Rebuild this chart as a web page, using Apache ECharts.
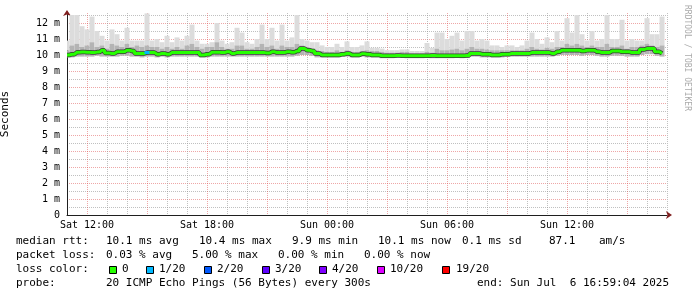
<!DOCTYPE html>
<html><head><meta charset="utf-8">
<script src="https://cdn.jsdelivr.net/npm/echarts@6/dist/echarts.min.js"></script>
<style>html,body{margin:0;padding:0;background:#fff}#c{width:697px;height:297px}</style>
</head><body><div id="c"></div>
<script>
// time: hours since Sat 00:00, 15-minute samples
const startHour = 11.0;
const stepHour = 0.25;
const medianRtt = [10.0,10.05,10.17,10.18,10.17,10.15,10.18,10.3,10.12,10.1,10.2,10.2,10.3,10.25,10.1,10.1,10.15,10.15,10.05,10.1,
 10.05,10.15,10.15,10.15,10.15,10.15,10.15,10.0,10.05,10.17,10.17,10.15,10.2,10.1,10.15,10.15,10.15,10.15,10.15,10.15,
 10.12,10.2,10.15,10.15,10.2,10.17,10.25,10.4,10.3,10.25,10.1,10.0,10.0,10.0,10.0,10.05,10.1,10.0,10.0,10.08,
 10.05,10.0,10.0,9.95,9.95,9.95,9.97,9.95,9.95,9.95,9.95,9.95,9.95,9.97,9.95,9.95,9.95,9.95,9.95,9.95,
 9.97,10.1,10.1,10.05,10.05,10.0,10.0,10.05,10.05,10.1,10.1,10.1,10.1,10.15,10.15,10.15,10.15,10.1,10.2,10.3,
 10.3,10.3,10.3,10.25,10.3,10.3,10.2,10.15,10.15,10.25,10.25,10.2,10.2,10.15,10.15,10.35,10.4,10.4,10.2,10.1];
const smokeLow = [9.85,9.85,9.9,9.9,9.9,9.9,9.95,9.9,9.9,9.9,9.9,9.95,9.95,9.9,9.9,9.85,9.9,9.9,9.85,9.9,
 9.85,9.9,9.9,9.9,9.9,9.9,9.9,9.85,9.85,9.9,9.9,9.9,9.9,9.9,9.9,9.9,9.9,9.9,9.9,9.9,
 9.9,9.9,9.9,9.9,9.9,9.9,9.95,10.0,10.0,9.95,9.85,9.85,9.85,9.85,9.85,9.9,9.9,9.85,9.85,9.9,
 9.85,9.85,9.85,9.8,9.8,9.8,9.85,9.85,9.8,9.8,9.8,9.8,9.85,9.8,9.8,9.8,9.8,9.8,9.85,9.8,
 9.85,9.9,9.9,9.85,9.85,9.85,9.85,9.85,9.9,9.9,9.9,9.9,9.9,9.9,9.9,9.9,9.9,9.9,9.95,10.0,
 10.0,10.0,10.0,9.95,10.0,10.0,9.95,9.9,9.9,9.95,9.95,9.95,9.9,9.9,9.9,10.0,10.05,10.05,9.95,9.9];
const smokeMid = [10.3,10.6,10.7,10.5,10.6,10.8,10.5,10.6,10.4,10.7,10.6,10.5,10.7,10.5,10.6,10.5,10.6,10.5,10.5,10.4,
 10.5,10.4,10.5,10.4,10.6,10.7,10.5,10.4,10.5,10.5,10.8,10.5,10.4,10.4,10.6,10.6,10.4,10.4,10.5,10.7,
 10.5,10.6,10.4,10.6,10.5,10.5,10.7,10.6,10.5,10.4,10.3,10.25,10.2,10.2,10.3,10.2,10.3,10.2,10.2,10.25,
 10.3,10.25,10.25,10.2,10.15,10.15,10.15,10.2,10.2,10.1,10.1,10.1,10.2,10.15,10.4,10.3,10.3,10.35,10.4,10.3,
 10.4,10.5,10.4,10.4,10.35,10.3,10.3,10.3,10.3,10.3,10.3,10.3,10.4,10.5,10.4,10.35,10.45,10.4,10.5,10.5,
 10.7,10.6,10.7,10.6,10.5,10.6,10.5,10.5,10.7,10.5,10.5,10.6,10.4,10.5,10.5,10.6,10.7,10.6,10.5,10.6];
const smokeMax = [10.9,12.5,12.5,11.8,11.6,12.4,11.5,11.2,10.9,11.6,11.3,10.9,11.7,10.9,10.9,10.9,12.6,10.9,11.0,10.8,
 11.2,10.8,11.1,10.9,11.2,11.9,10.9,10.7,10.7,10.8,12.0,10.9,10.7,10.8,11.7,11.4,10.8,10.7,11.0,11.9,
 11.0,11.7,10.9,11.9,10.9,11.1,12.5,11.0,10.9,10.8,10.8,10.6,10.5,10.5,10.7,10.5,10.85,10.5,10.5,10.6,
 10.85,10.45,10.45,10.4,10.3,10.3,10.3,10.35,10.35,10.25,10.25,10.25,10.75,10.45,11.4,11.4,11.0,11.2,11.4,10.9,
 11.5,11.5,10.9,11.0,10.9,10.6,10.6,10.5,10.6,10.6,10.5,10.6,10.9,11.4,11.0,10.7,11.1,10.8,11.5,10.9,
 12.3,11.4,12.5,11.3,10.9,11.5,10.9,11.0,12.5,11.0,11.0,12.2,10.9,11.0,10.9,10.9,12.3,11.3,11.3,12.4];
const lossCount = new Array(120).fill(0); lossCount[16] = 1;
const tickHours = [12,18,24,30,36];
const tickLabels = ['Sat 12:00','Sat 18:00','Sun 00:00','Sun 06:00','Sun 12:00'];

const times = medianRtt.map((_, i) => startHour + i * stepHour);
const pair = arr => arr.map((v, i) => [times[i], v]);
const smokeData = times.map((t, i) => [t, smokeLow[i], smokeMid[i], smokeMax[i]]);
const lossData = [];
lossCount.forEach((c, i) => { if (c > 0) { lossData.push([times[i] - stepHour/2, medianRtt[i]], [times[i] + stepHour/2, medianRtt[i]]); } });

const MONO = 'DejaVu Sans Mono';
const GRID = 'rgba(150,150,150,0.6)';
const MGRID = 'rgba(222,79,79,0.5)';
const chart = echarts.init(document.getElementById('c'), null, {renderer: 'canvas'});

const txt = (x, y, s, extra) => Object.assign({type:'text', x, y, style:{text:s, font:'11px "DejaVu Sans Mono"', fill:'#000', verticalAlign:'middle', align:'left'}}, extra||{});
const box = (x, y, c) => ({type:'rect', shape:{x, y, width:7, height:7}, style:{fill:c, stroke:'#000', lineWidth:1}});

function renderSmoke(params, api) {
  const t = api.value(0);
  const x0 = api.coord([t - stepHour/2, 0])[0];
  const x1 = api.coord([t + stepHour/2, 0])[0];
  const yLo = api.coord([t, api.value(1)])[1];
  const yMi = api.coord([t, api.value(2)])[1];
  const yHi = api.coord([t, api.value(3)])[1];
  return {type:'group', children:[
    {type:'rect', shape:{x:x0, y:yHi, width:x1-x0, height:yMi-yHi}, style:{fill:'#dcdcdc'}},
    {type:'rect', shape:{x:x0, y:yMi, width:x1-x0, height:yLo-yMi}, style:{fill:'#b4b4b4'}}
  ]};
}

chart.setOption({
  animation: false,
  backgroundColor: '#fff',
  grid: {left: 67, right: 30, top: 13, bottom: 82, outerBoundsMode: 'none', containLabel: false},
  xAxis: [{
    type: 'value', min: 11, max: 41, interval: 1,
    axisLine: {show: true, lineStyle: {color: '#1f1f1f', width: 1}},
    axisTick: {show: false},
    axisLabel: {color:'#000', fontFamily: MONO, fontSize: 10, margin: 5,
      formatter: v => { const k = tickHours.indexOf(Math.round(v)); return k >= 0 ? tickLabels[k] : ''; }},
    splitLine: {show: true, lineStyle: {color: [GRID, MGRID, GRID], type: [1,1], width: 1}}
  },{
    type: 'value', min: 11, max: 41, position: 'bottom', show: true,
    axisLine: {show: true, symbol: ['none','arrow'], symbolSize: [6,6], symbolOffset: [0, 5],
      lineStyle: {color: '#801f1f', opacity: 0}},
    axisTick: {show:false}, axisLabel: {show:false}, splitLine: {show:false}
  }],
  yAxis: [{
    type: 'value', min: 0, max: 12.625, interval: 0.5,
    name: 'Seconds', nameLocation: 'middle', nameGap: 56, nameRotate: 90,
    nameTextStyle: {fontFamily: MONO, fontSize: 11, color: '#000'},
    axisLine: {show: true, lineStyle: {color: '#1f1f1f', width: 1}},
    axisTick: {show: false},
    axisLabel: {color:'#000', fontFamily: MONO, fontSize: 10, margin: 7, showMaxLabel: false,
      formatter: v => { if (Math.abs(v - Math.round(v)) > 1e-6) return ''; return v === 0 ? '0' : v + ' m'; }},
    splitLine: {show: true, showMaxLine: false, lineStyle: {color: [MGRID, GRID], type: [1,1], width: 1}}
  },{
    type: 'value', min: 0, max: 12.625, position: 'left', show: true,
    axisLine: {show: true, symbol: ['none','arrow'], symbolSize: [6,6], symbolOffset: [0, 3],
      lineStyle: {color: '#801f1f', opacity: 0}},
    axisTick: {show:false}, axisLabel: {show:false}, splitLine: {show:false}
  }],
  series: [
    {type:'custom', data: smokeData, renderItem: renderSmoke, clip: true, silent: true, encode: {x: 0, y: [1,2,3]}},
    {type:'line', data: pair(medianRtt), step:'middle', symbol:'none', lineStyle:{color:'#3a3a3a', width:4.5}, silent:true},
    {type:'line', data: pair(medianRtt), step:'middle', symbol:'none', lineStyle:{color:'#26ff00', width:3}, silent:true},
    {type:'line', data: lossData, symbol:'none', lineStyle:{color:'#00b8ff', width:3}, silent:true, z: 5}
  ],
  graphic: [
    {type:'text', x: 687, y: 5, rotation: -Math.PI/2, style:{text:'RRDTOOL / TOBI OETIKER', font:'8px "DejaVu Sans Mono"', fill:'#aaaaaa', align:'left', verticalAlign:'middle'}},
    txt(16, 241.5, 'median rtt:'), txt(106, 241.5, '10.1 ms avg'), txt(199, 241.5, '10.4 ms max'), txt(292, 241.5, '9.9 ms min'),
    txt(378, 241.5, '10.1 ms now'), txt(462, 241.5, '0.1 ms sd'), txt(549, 241.5, '87.1'), txt(599, 241.5, 'am/s'),
    txt(16, 255.5, 'packet loss:'), txt(106, 255.5, '0.03 % avg'), txt(192, 255.5, '5.00 % max'), txt(278, 255.5, '0.00 % min'), txt(364, 255.5, '0.00 % now'),
    txt(16, 269.5, 'loss color:'),
    box(109.5, 266.5, '#26ff00'), txt(122, 269.5, '0'),
    box(146.5, 266.5, '#00b8ff'), txt(159, 269.5, '1/20'),
    box(204.5, 266.5, '#0059ff'), txt(217, 269.5, '2/20'),
    box(262.5, 266.5, '#5e00ff'), txt(275, 269.5, '3/20'),
    box(319.5, 266.5, '#7e00ff'), txt(332, 269.5, '4/20'),
    box(377.5, 266.5, '#dd00ff'), txt(390, 269.5, '10/20'),
    box(442.5, 266.5, '#ff0000'), txt(456, 269.5, '19/20'),
    txt(16, 283, 'probe:'), txt(106, 283, '20 ICMP Echo Pings (56 Bytes) every 300s'), txt(477, 283, 'end: Sun Jul  6 16:59:04 2025')
  ]
});
</script></body></html>
